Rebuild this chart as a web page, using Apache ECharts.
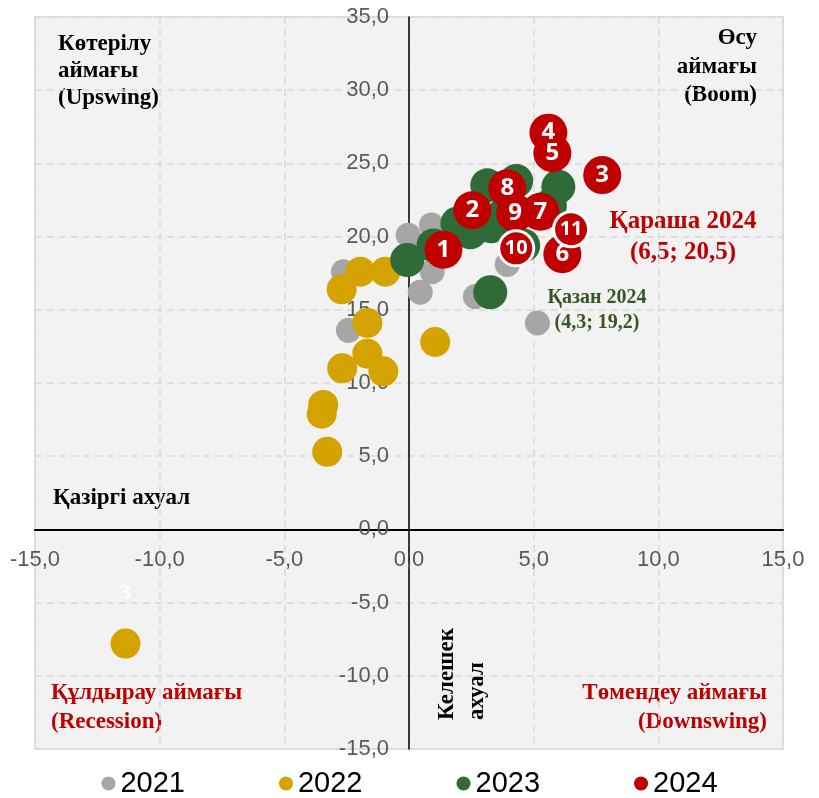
<!DOCTYPE html>
<html>
<head>
<meta charset="utf-8">
<script src="https://cdn.jsdelivr.net/npm/echarts@6/dist/echarts.min.js"></script>
<style>
  html, body { margin: 0; padding: 0; background: #fff; }
  #chart { width: 819px; height: 798px; }
</style>
</head>
<body>
<div id="chart"></div>
<script>
// x - қазіргі ахуал, y - келешек ахуал (ай сайынғы мәндер)
const years = ['2021', '2022', '2023', '2024'];

const x2021 = [-0.03, 0.9, 0.93, 0.45, -2.63, -2.43, 2.5, 3.4, 2.66, 4.2, 3.94, 5.15];
const y2021 = [20.1, 20.8, 17.6, 16.2, 17.6, 13.6, 20.2, 20.6, 15.9, 21.5, 18.1, 14.1];

const x2022 = [-0.95, -1.95, -11.37, -2.7, -1.67, 1.05, -1.67, -2.68, -1.03, -3.44, -3.5, -3.28];
const y2022 = [17.6, 17.6, -7.8, 16.4, 14.1, 12.8, 12.0, 11.0, 10.8, 8.5, 7.9, 5.3];

const x2023 = [-0.07, 0.98, 1.94, 2.46, 3.3, 3.14, 4.3, 5.99, 5.65, 3.8, 4.58, 3.26];
const y2023 = [18.4, 19.4, 20.9, 20.3, 20.7, 23.5, 23.8, 23.4, 22.1, 21.5, 19.4, 16.2];

const x2024 = [1.38, 2.54, 7.75, 5.59, 5.75, 6.15, 5.27, 3.94, 4.26, 4.3, 6.5];
const y2024 = [19.1, 21.8, 24.2, 27.1, 25.7, 18.8, 21.7, 23.3, 21.6, 19.2, 20.5];
const months2024 = ['1', '2', '3', '4', '5', '6', '7', '8', '9', '10', '11'];

// 2022 жылғы наурыз нүктесінің белгісі
const outlier2022 = 2;
const outlierLabel2022 = '3';

const xMin = -15, xMax = 15, yMin = -15, yMax = 35, step = 5;

const colors = ['#a6a6a6', '#d4a300', '#2e6b38', '#c00000'];

const pairs = (xs, ys) => xs.map((x, i) => [x, ys[i]]);
const fmt = v => v.toFixed(1).replace('.', ',');

const serif = '"Liberation Serif", "Times New Roman", serif';
const sans = '"Liberation Sans", Arial, sans-serif';

// торының өлшемі
const W = 819, H = 798;
const grid = { left: 35, right: 36, top: 17, bottom: 49 };
const plotW = W - grid.left - grid.right;
const plotH = H - grid.top - grid.bottom;

const chart = echarts.init(document.getElementById('chart'));

const option = {
  animation: false,
  grid: {
    ...grid,
    containLabel: false,
    outerBoundsMode: 'none',
    show: true,
    backgroundColor: '#f2f2f2',
    borderColor: '#d9d9d9',
    borderWidth: 1.5
  },
  xAxis: {
    type: 'value',
    min: xMin, max: xMax, interval: step,
    // осьті нөлге жылжыту (жазулармен бірге)
    offset: -plotH * (0 - yMin) / (yMax - yMin),
    axisLine: { onZero: false, lineStyle: { color: '#000', width: 2 } },
    axisTick: { show: false },
    axisLabel: { formatter: fmt, color: '#595959', fontSize: 22, margin: 20, fontFamily: sans },
    splitLine: { lineStyle: { color: '#d9d9d9', type: [7, 5], width: 1.5 } }
  },
  yAxis: {
    type: 'value',
    min: yMin, max: yMax, interval: step,
    offset: -plotW * (0 - xMin) / (xMax - xMin),
    axisLine: { onZero: false, lineStyle: { color: '#000', width: 1.5 } },
    axisTick: { show: false },
    axisLabel: { formatter: fmt, color: '#595959', fontSize: 22, margin: 20, fontFamily: sans },
    splitLine: { lineStyle: { color: '#d9d9d9', type: [7, 5], width: 1.5 } }
  },
  legend: {
    data: years,
    top: 769,
    padding: 0,
    left: 'center',
    icon: 'circle',
    itemWidth: 14,
    itemHeight: 14,
    itemGap: 94,
    textStyle: { fontSize: 29, color: '#000', fontFamily: sans }
  },
  series: [
    {
      name: '2021', type: 'scatter', symbolSize: 25,
      itemStyle: { color: colors[0], opacity: 1 },
      data: pairs(x2021, y2021)
    },
    {
      name: '2022', type: 'scatter', symbolSize: 30,
      itemStyle: { color: colors[1], opacity: 1 },
      label: {
        show: true, position: 'top', distance: 24,
        formatter: p => (p.dataIndex === outlier2022 ? outlierLabel2022 : ''),
        color: '#fff', fontSize: 22, fontWeight: 'bold', fontFamily: serif
      },
      data: pairs(x2022, y2022)
    },
    {
      name: '2023', type: 'scatter', symbolSize: 34,
      itemStyle: { color: colors[2], opacity: 1 },
      data: pairs(x2023, y2023)
    },
    {
      name: '2024', type: 'scatter', symbolSize: 38,
      itemStyle: { color: colors[3], opacity: 1 },
      label: {
        show: true, position: 'inside',
        formatter: p => months2024[p.dataIndex],
        color: '#fff', fontSize: 24, fontWeight: 'bold',
        fontFamily: '"Open Sans", sans-serif'
      },
      data: x2024.map((x, i) => {
        const item = { value: [x, y2024[i]] };
        // соңғы екі айдың шеңбері ақ жиекпен
        if (i >= 9) {
          item.symbolSize = 35;
          item.itemStyle = { borderColor: '#fff', borderWidth: 3 };
          item.label = { fontSize: 20 };
        }
        return item;
      })
    }
  ],
  graphic: [
    {
      type: 'text', left: 58, top: 31,
      style: {
        text: 'Көтерілу\nаймағы\n(Upswing)', font: 'bold 23px ' + serif,
        lineHeight: 27, fill: '#000'
      }
    },
    {
      type: 'text', x: 757, y: 24,
      style: {
        text: 'Өсу\nаймағы\n(Boom)', font: 'bold 23px ' + serif,
        lineHeight: 28.5, fill: '#000', align: 'right', verticalAlign: 'top'
      }
    },
    {
      type: 'text', x: 53, y: 498,
      style: {
        text: 'Қазіргі ахуал', font: 'bold 23px ' + serif,
        fill: '#000', verticalAlign: 'middle'
      }
    },
    {
      type: 'text', x: 462, y: 720, rotation: Math.PI / 2,
      style: {
        text: 'Келешек\nахуал', font: 'bold 23px ' + serif, lineHeight: 30,
        fill: '#000', align: 'left', verticalAlign: 'middle'
      }
    },
    {
      type: 'text', x: 51, y: 679,
      style: {
        text: 'Құлдырау аймағы\n(Recession)', font: 'bold 23px ' + serif,
        lineHeight: 29, fill: '#c00000', verticalAlign: 'top'
      }
    },
    {
      type: 'text', x: 767, y: 679,
      style: {
        text: 'Төмендеу аймағы\n(Downswing)', font: 'bold 23px ' + serif,
        lineHeight: 29, fill: '#c00000', align: 'right', verticalAlign: 'top'
      }
    },
    {
      type: 'text', x: 683, y: 206,
      style: {
        text: 'Қараша 2024\n(6,5; 20,5)', font: 'bold 25px ' + serif,
        lineHeight: 31, fill: '#c00000', align: 'center', verticalAlign: 'top'
      }
    },
    {
      type: 'text', x: 597, y: 285,
      style: {
        text: 'Қазан 2024\n(4,3; 19,2)', font: 'bold 20px ' + serif,
        lineHeight: 25, fill: '#375623', align: 'center', verticalAlign: 'top'
      }
    }
  ]
};

chart.setOption(option);
</script>
</body>
</html>
